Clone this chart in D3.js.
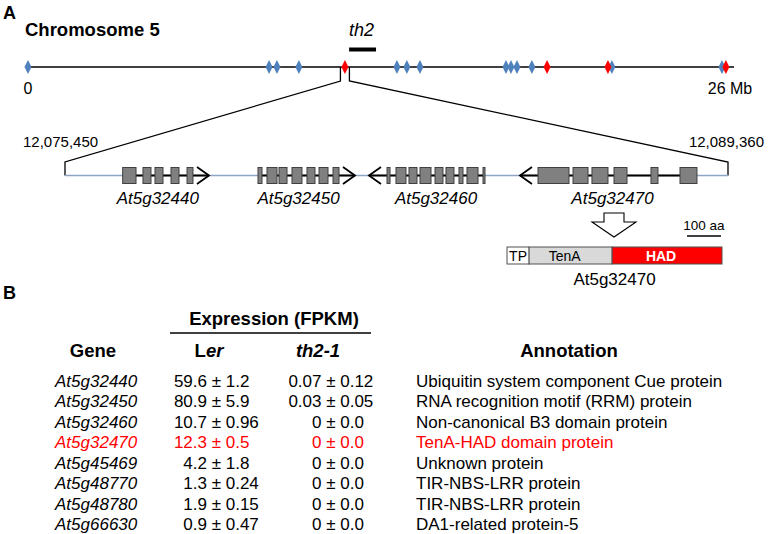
<!DOCTYPE html>
<html><head><meta charset="utf-8">
<script src="https://cdn.jsdelivr.net/npm/d3@7"></script>
<style>
body{margin:0;background:#fff}
svg{display:block}
text{font-family:"Liberation Sans",Arial,Helvetica,sans-serif;fill:#000}
</style>
</head><body><svg id="c" width="768" height="534"></svg>
<script>
// ---------- DATA ----------
const chromLengthMb = 27;
const blueMarkersMb = [0, 9.22, 9.52, 10.36, 14.11, 14.49, 14.99, 18.28, 18.47, 18.70, 19.27, 22.33, 26.54];
const redMarkersMb = [12.12, 19.85, 22.18, 26.69];
const th2IntervalMb = [12.28, 13.31];
const regionStart = 12075450, regionEnd = 12089360;
const geneNames = ["At5g32440", "At5g32450", "At5g32460", "At5g32470"];
const geneStrands = [1, 1, -1, -1];
const geneTips = [3021, 6084, 6378, 9546]; // bp offset from regionStart
const geneExons = [
  [[1210,1490],[1636,1804],[1888,2056],[2224,2392],[2560,2685]],
  [[4049,4133],[4238,4448],[4490,4658],[4762,4972],[5077,5245],[5329,5518],[5623,5749]],
  [[6756,6819],[6944,7154],[7217,7385],[7448,7679],[7763,7930],[7993,8161],[8266,8350],[8434,8665],[8770,8812]],
  [[9924,10574],[10658,10973],[11056,11392],[11518,11791],[12294,12441],[12903,13259]]
];
const proteinName = "At5g32470";
const domainNames = ["TP", "TenA", "HAD"];
const domainStarts = [0, 65, 309];
const domainEnds = [65, 309, 632];
const scaleBarAa = 100;

const tableGenes = ["At5g32440","At5g32450","At5g32460","At5g32470","At5g45469","At5g48770","At5g48780","At5g66630"];
const lerMean = ["59.6","80.9","10.7","12.3","4.2","1.3","1.9","0.9"];
const lerErr  = ["1.2","5.9","0.96","0.5","1.8","0.24","0.15","0.47"];
const th2Mean = ["0.07","0.03","0","0","0","0","0","0"];
const th2Err  = ["0.12","0.05","0.0","0.0","0.0","0.0","0.0","0.0"];
const annotations = ["Ubiquitin system component Cue protein","RNA recognition motif (RRM) protein","Non-canonical B3 domain protein","TenA-HAD domain protein","Unknown protein","TIR-NBS-LRR protein","TIR-NBS-LRR protein","DA1-related protein-5"];
const highlightGene = "At5g32470";

// ---------- STYLE ----------
const BLUE = "#4f81bd", RED = "#ff0000", REGION = "#8ea6c4";
const svg = d3.select("#c");

// ---------- PANEL A ----------
svg.append("text").attr("x", 3).attr("y", 19).attr("font-size", 18).attr("font-weight", "bold").text("A");
svg.append("text").attr("x", 25).attr("y", 36).attr("font-size", 18.5).attr("font-weight", "bold").text("Chromosome 5");

const xMb = d3.scaleLinear().domain([0, chromLengthMb]).range([28, 734]);
const chromY = 67;
svg.append("line").attr("x1", xMb(0) - 1).attr("x2", xMb(chromLengthMb)).attr("y1", chromY).attr("y2", chromY)
  .attr("stroke", "#000").attr("stroke-width", 1.3);

// th2 interval
svg.append("line").attr("x1", xMb(th2IntervalMb[0])).attr("x2", xMb(th2IntervalMb[1]))
  .attr("y1", 49.5).attr("y2", 49.5).attr("stroke", "#000").attr("stroke-width", 4);
svg.append("text").attr("x", (xMb(th2IntervalMb[0]) + xMb(th2IntervalMb[1])) / 2 - 1).attr("y", 36)
  .attr("text-anchor", "middle").attr("font-size", 18).attr("font-style", "italic").text("th2");

// zoom bracket (drawn before markers)
const xBp = d3.scaleLinear().domain([regionStart, regionEnd]).range([65, 728]);
const geneY = 175.5;
const zoomCenter = xMb(redMarkersMb[0]);
const bracket = d3.line();
svg.append("path").attr("d", bracket([[zoomCenter - 4.5, chromY], [zoomCenter - 4.5, 81], [xBp(regionStart), 162], [xBp(regionStart), geneY]]))
  .attr("fill", "none").attr("stroke", "#000").attr("stroke-width", 1.3);
svg.append("path").attr("d", bracket([[zoomCenter + 4.5, chromY], [zoomCenter + 4.5, 81], [xBp(regionEnd), 162], [xBp(regionEnd), geneY]]))
  .attr("fill", "none").attr("stroke", "#000").attr("stroke-width", 1.3);

const diamond = (cx) => `M${cx},${chromY - 7}L${cx + 3.5},${chromY}L${cx},${chromY + 7}L${cx - 3.5},${chromY}Z`;
svg.append("g").selectAll("path").data(blueMarkersMb).join("path")
  .attr("d", d => diamond(xMb(d))).attr("fill", BLUE);
svg.append("g").selectAll("path").data(redMarkersMb).join("path")
  .attr("d", d => diamond(xMb(d))).attr("fill", RED);

svg.append("text").attr("x", xMb(0)).attr("y", 94).attr("text-anchor", "middle").attr("font-size", 16).text("0");
svg.append("text").attr("x", xMb(chromLengthMb) - 4).attr("y", 94).attr("text-anchor", "middle").attr("font-size", 16).text("26 Mb");

// region coordinates
const fmt = d3.format(",");
svg.append("text").attr("x", 23).attr("y", 147).attr("font-size", 15).text(fmt(regionStart));
svg.append("text").attr("x", 764).attr("y", 147).attr("text-anchor", "end").attr("font-size", 15).text(fmt(regionEnd));

// region line
svg.append("line").attr("x1", xBp(regionStart)).attr("x2", xBp(regionEnd)).attr("y1", geneY).attr("y2", geneY)
  .attr("stroke", REGION).attr("stroke-width", 1.6);

// genes
const gGenes = svg.append("g");
geneNames.forEach((name, i) => {
  const ex = geneExons[i];
  const tip = xBp(regionStart + geneTips[i]);
  const s = xBp(regionStart + ex[0][0]);
  const e = xBp(regionStart + ex[ex.length - 1][1]);
  const g = gGenes.append("g");
  const lo = Math.min(s, tip), hi = Math.max(e, tip);
  g.append("line").attr("x1", lo).attr("x2", hi).attr("y1", geneY).attr("y2", geneY)
    .attr("stroke", "#000").attr("stroke-width", 1.8);
  const dir = geneStrands[i];
  g.append("path").attr("d", d3.line()([[tip - dir * 12, geneY - 8.5], [tip, geneY], [tip - dir * 12, geneY + 8.5]]))
    .attr("fill", "none").attr("stroke", "#000").attr("stroke-width", 1.8);
  g.selectAll("rect").data(ex).join("rect")
    .attr("x", d => xBp(regionStart + d[0])).attr("width", d => xBp(regionStart + d[1]) - xBp(regionStart + d[0]))
    .attr("y", geneY - 8).attr("height", 16)
    .attr("fill", "#808080").attr("stroke", "#404040").attr("stroke-width", 1);
  g.append("text").attr("x", (s + e) / 2 + (i === 3 ? -5 : 0)).attr("y", 204).attr("text-anchor", "middle")
    .attr("font-size", 17).attr("font-style", "italic").text(name);
});

// hollow arrow from gene to protein
const ax = 614;
svg.append("path").attr("d", `M${ax-10},213L${ax+10},213L${ax+10},222L${ax+22},222L${ax},237L${ax-22},222L${ax-10},222Z`)
  .attr("fill", "#fff").attr("stroke", "#000").attr("stroke-width", 1.1);

// protein
const xAa = d3.scaleLinear().domain([0, domainEnds[2]]).range([507, 722]);
const domFill = ["#ffffff", "#d9d9d9", RED];
const domText = ["#000", "#000", "#fff"];
const gp = svg.append("g");
domainNames.forEach((dn, i) => {
  gp.append("rect").attr("x", xAa(domainStarts[i])).attr("y", 247).attr("width", xAa(domainEnds[i]) - xAa(domainStarts[i])).attr("height", 17)
    .attr("fill", domFill[i]).attr("stroke", "#505050").attr("stroke-width", 1);
  gp.append("text").attr("x", (xAa(domainStarts[i]) + xAa(domainEnds[i])) / 2 - (i === 0 ? 0 : 6)).attr("y", 260.5)
    .attr("text-anchor", "middle").attr("font-size", 14).attr("font-weight", i === 2 ? "bold" : "normal")
    .style("fill", domText[i]).text(dn);
});
svg.append("text").attr("x", (xAa(0) + xAa(domainEnds[2])) / 2).attr("y", 285).attr("text-anchor", "middle").attr("font-size", 17).text(proteinName);
// scale bar
const sbEnd = xAa(domainEnds[2]) - 1;
svg.append("line").attr("x1", sbEnd - (xAa(scaleBarAa) - xAa(0))).attr("x2", sbEnd).attr("y1", 236).attr("y2", 236).attr("stroke", "#000").attr("stroke-width", 1.5);
svg.append("text").attr("x", sbEnd - (xAa(scaleBarAa) - xAa(0)) / 2).attr("y", 230).attr("text-anchor", "middle").attr("font-size", 13.5).text(scaleBarAa + " aa");

// ---------- PANEL B ----------
svg.append("text").attr("x", 3).attr("y", 299).attr("font-size", 18).attr("font-weight", "bold").text("B");
svg.append("text").attr("x", 274).attr("y", 325).attr("text-anchor", "middle").attr("font-size", 18.5).attr("font-weight", "bold").text("Expression (FPKM)");
svg.append("line").attr("x1", 170).attr("x2", 371).attr("y1", 333).attr("y2", 333).attr("stroke", "#000").attr("stroke-width", 1.3);
const hY = 357;
svg.append("text").attr("x", 93).attr("y", hY).attr("text-anchor", "middle").attr("font-size", 18.5).attr("font-weight", "bold").text("Gene");
const ler = svg.append("text").attr("x", 209).attr("y", hY).attr("text-anchor", "middle").attr("font-size", 18.5).attr("font-weight", "bold");
ler.append("tspan").text("L");
ler.append("tspan").attr("font-style", "italic").text("er");
svg.append("text").attr("x", 318).attr("y", hY).attr("text-anchor", "middle").attr("font-size", 18.5).attr("font-weight", "bold").attr("font-style", "italic").text("th2-1");
svg.append("text").attr("x", 569).attr("y", hY).attr("text-anchor", "middle").attr("font-size", 18.5).attr("font-weight", "bold").text("Annotation");

const yRow = d3.scaleLinear().domain([0, tableGenes.length - 1]).range([386.5, 530]);
const rows = svg.append("g").selectAll("g").data(tableGenes).join("g")
  .attr("transform", (d, i) => `translate(0,${yRow(i)})`)
  .style("font-size", "17px");
const col = (d) => d === highlightGene ? RED : "#000";
rows.append("text").attr("x", 55).attr("font-style", "italic").style("fill", col).text(d => d);
rows.append("text").attr("x", 207).attr("text-anchor", "end").style("fill", col).text((d, i) => lerMean[i]);
rows.append("text").attr("x", 211.7).style("fill", col).text((d, i) => "± " + lerErr[i]);
rows.append("text").attr("x", 321.5).attr("text-anchor", "end").style("fill", col).text((d, i) => th2Mean[i]);
rows.append("text").attr("x", 326.2).style("fill", col).text((d, i) => "± " + th2Err[i]);
rows.append("text").attr("x", 416).style("fill", col).text((d, i) => annotations[i]);
</script>
</body></html>
